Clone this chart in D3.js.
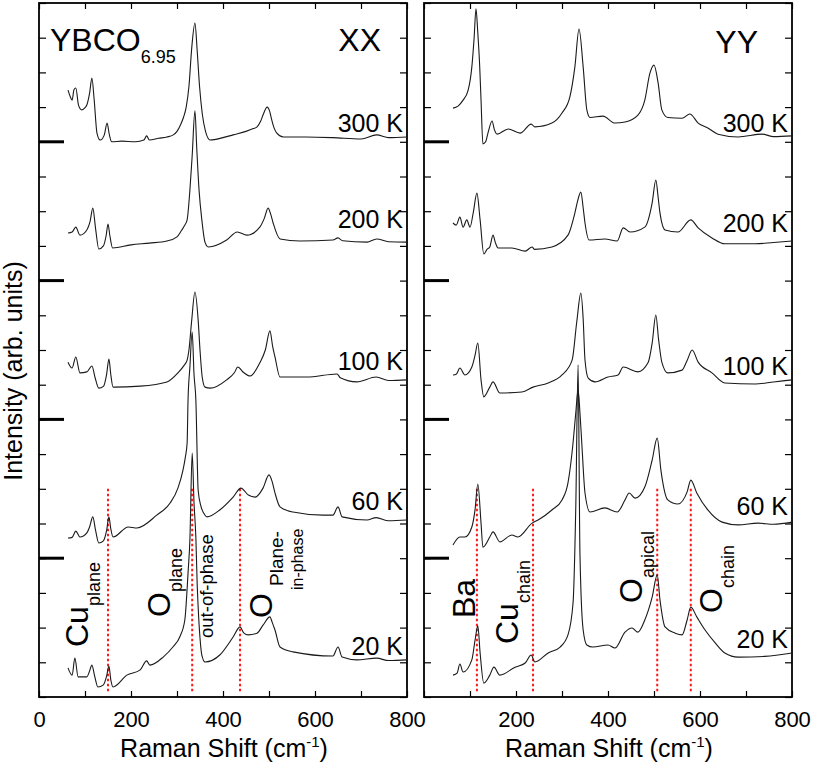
<!DOCTYPE html>
<html><head><meta charset="utf-8">
<script src="https://cdn.jsdelivr.net/npm/d3@7"></script>
<style>
body{margin:0;background:#fff;}
svg{display:block;font-family:"Liberation Sans",Arial,sans-serif;}
</style></head>
<body><svg id="c" width="814" height="766"></svg>
<script>
// ---------------- DATA ----------------
const temps = ["300 K","200 K","100 K","60 K","20 K"];
const xTicks = [0,100,200,300,400,500,600,700,800];
const xTickLabels = [0,200,400,600,800];
const yMinorTicks = d3.range(0,21);
const yMajorTicks = [4,8,12,16];

// XX polarisation spectra [Raman shift cm-1, intensity (offset units)]
const xx300 = [[63,17.49],[68,17.3],[72,17.2],[76,17.5],[80,17.55],[86,17.05],[93,16.92],[99,16.97],[104,17.06],[110,17.4],[115,17.84],[120,17.2],[126,16.25],[133,16.05],[142,16.2],[148,16.54],[153,16.2],[158,16.0],[180,16.02],[210,16.0],[228,16.05],[234,16.17],[240,16.05],[260,16.1],[278,16.14],[292,16.2],[300,16.3],[308,16.5],[314,16.7],[320,17.0],[326,17.6],[332,18.7],[339,19.42],[344,18.6],[349,17.6],[355,16.8],[362,16.3],[372,16.05],[400,16.12],[422,16.2],[450,16.3],[466,16.38],[474,16.43],[482,16.6],[487,16.77],[496,17.0],[501,16.9],[506,16.63],[511,16.4],[517,16.25],[531,16.14],[580,16.14],[639,16.12],[700,16.08],[734,16.2],[760,16.12],[800,16.14]];
const xx200 = [[63,13.37],[72,13.4],[80,13.54],[89,13.31],[104,13.46],[111,13.7],[117,14.09],[123,13.5],[130,12.91],[140,13.0],[146,13.3],[150,13.63],[154,13.3],[160,12.94],[200,13.03],[240,13.08],[278,13.14],[300,13.26],[310,13.45],[317,13.6],[322,13.75],[328,14.6],[333,15.6],[339,16.89],[343,15.8],[348,14.6],[354,13.75],[361,13.1],[368,12.97],[408,13.17],[431,13.4],[452,13.31],[480,13.54],[490,13.8],[498,14.09],[504,13.9],[509,13.66],[524,13.2],[567,13.14],[639,13.17],[650,13.23],[660,13.15],[713,13.11],[734,13.2],[760,13.12],[800,13.11]];
const xx100 = [[63,9.65],[72,9.48],[80,9.8],[89,9.34],[104,9.37],[115,9.54],[122,9.2],[130,8.9],[140,8.95],[147,9.3],[152,9.74],[156,9.3],[161,8.93],[220,8.96],[278,9.08],[302,9.34],[315,9.55],[322,9.71],[326,10.0],[332,10.86],[339,11.67],[346,10.86],[350,10.0],[355,9.2],[361,8.93],[372,8.9],[408,9.14],[425,9.35],[432,9.51],[445,9.35],[459,9.25],[480,9.63],[492,10.0],[502,10.55],[508,10.1],[513,9.8],[524,9.22],[582,9.22],[648,9.31],[655,9.2],[691,9.08],[733,9.22],[760,9.12],[800,9.14]];
const xx60 = [[63,4.58],[72,4.6],[80,4.78],[89,4.61],[104,4.73],[110,4.9],[117,5.19],[123,4.8],[130,4.44],[140,4.5],[147,4.8],[152,5.19],[156,4.85],[161,4.61],[194,4.9],[213,4.87],[256,5.24],[285,5.59],[302,6.02],[313,6.54],[318,6.9],[322,7.32],[324,8.56],[328,9.5],[333,10.52],[337,9.3],[341,8.56],[346,5.96],[352,5.5],[358,5.3],[365,5.19],[393,5.39],[422,5.76],[439,6.02],[455,5.82],[470,5.76],[487,6.02],[500,6.4],[507,6.2],[513,5.88],[524,5.48],[552,5.33],[617,5.24],[639,5.24],[650,5.48],[659,5.19],[713,5.1],[733,5.17],[760,5.08],[800,5.1]];
const xx20 = [[63,0.84],[72,0.63],[78,1.12],[85,0.58],[104,0.58],[110,0.75],[115,0.92],[121,0.6],[128,0.29],[140,0.35],[147,0.6],[152,0.89],[156,0.5],[161,0.29],[191,0.63],[220,0.78],[234,1.04],[241,0.92],[270,1.15],[291,1.44],[306,1.73],[317,2.22],[324,3.57],[328,4.52],[333,7.03],[337,5.6],[341,4.6],[344,3.2],[346,2.59],[350,1.7],[354,1.21],[361,1.01],[393,1.21],[422,1.73],[437,2.02],[445,1.85],[455,1.79],[474,1.84],[487,2.07],[502,2.31],[507,2.15],[513,1.93],[524,1.44],[552,1.3],[639,1.18],[650,1.44],[659,1.15],[691,1.07],[734,1.12],[760,1.05],[800,1.07]];

// YY polarisation spectra
const yy300 = [[63,16.97],[74,17.03],[85,17.2],[96,17.49],[104,18.16],[109,19.0],[113,19.83],[117,19.13],[121,18.2],[124,17.2],[128,15.94],[134,16.0],[139,16.25],[148,16.6],[153,16.35],[159,16.22],[183,16.37],[209,16.25],[233,16.51],[241,16.43],[278,16.54],[300,16.83],[317,17.29],[328,18.16],[337,19.25],[346,18.16],[354,16.92],[361,16.7],[389,16.74],[415,16.54],[437,16.57],[465,16.77],[480,17.2],[491,17.97],[500,18.21],[509,17.69],[517,16.92],[530,16.7],[561,16.68],[578,16.8],[596,16.54],[617,16.4],[639,16.22],[683,16.14],[735,16.22],[760,16.15],[800,16.17]];
const yy200 = [[63,13.66],[70,13.6],[78,13.83],[85,13.54],[93,13.75],[100,13.54],[107,13.95],[115,14.52],[122,13.75],[130,12.77],[137,12.9],[143,12.97],[150,13.31],[155,13.1],[161,12.94],[191,12.94],[220,12.85],[235,12.97],[240,12.9],[278,12.97],[313,13.31],[328,13.95],[334,14.3],[341,14.55],[346,14.1],[350,13.66],[359,13.17],[393,13.2],[420,13.14],[433,13.52],[448,13.4],[480,13.54],[496,14.24],[504,14.9],[509,14.4],[513,13.95],[524,13.46],[552,13.4],[580,13.75],[596,13.52],[626,13.23],[654,13.06],[720,13.06],[760,13.1],[800,13.14]];
const yy100 = [[63,9.28],[70,9.3],[78,9.48],[89,9.28],[104,9.51],[111,9.85],[117,10.2],[124,9.14],[130,8.65],[143,8.93],[150,9.08],[165,8.76],[213,8.79],[237,8.93],[270,9.05],[300,9.28],[322,9.71],[332,10.8],[341,11.64],[346,10.9],[350,9.71],[357,9.19],[372,9.08],[400,9.22],[422,9.28],[433,9.51],[465,9.37],[487,9.63],[496,10.2],[504,11.01],[510,10.3],[517,9.65],[530,9.34],[561,9.42],[572,9.7],[583,10.0],[596,9.65],[626,9.34],[654,9.05],[720,9.02],[760,9.08],[800,9.14]];
const yy60 = [[63,4.38],[78,4.61],[89,4.61],[104,4.9],[111,5.4],[117,6.14],[124,5.01],[128,4.32],[143,4.61],[150,4.76],[165,4.47],[191,4.67],[204,4.61],[235,5.01],[248,5.1],[278,5.39],[300,5.68],[313,6.17],[324,7.32],[330,8.2],[335,8.85],[339,8.2],[343,7.32],[350,5.88],[361,5.33],[393,5.45],[420,5.33],[437,5.68],[446,5.88],[459,5.73],[480,6.05],[496,6.83],[507,7.46],[515,6.54],[530,5.68],[552,5.56],[572,5.91],[580,6.25],[593,5.88],[617,5.39],[648,5.04],[683,4.96],[726,5.01],[760,4.98],[800,5.04]];
const yy20 = [[63,0.63],[72,0.69],[78,0.95],[85,0.72],[104,1.07],[111,1.64],[117,2.05],[122,1.27],[130,0.4],[143,0.63],[152,0.86],[165,0.63],[198,0.86],[220,0.98],[233,1.21],[241,1.01],[270,1.27],[296,1.44],[313,1.79],[324,2.71],[330,5.5],[335,9.57],[339,4.15],[346,1.93],[354,1.5],[367,1.44],[400,1.5],[415,1.41],[437,1.87],[452,1.99],[465,1.87],[480,2.22],[496,2.88],[507,3.52],[513,2.8],[524,2.02],[546,1.84],[561,1.79],[572,2.22],[580,2.59],[593,2.31],[611,1.93],[633,1.56],[654,1.27],[683,1.15],[741,1.17],[800,1.27]];

const xxSeries = [xx300,xx200,xx100,xx60,xx20];
const yySeries = [yy300,yy200,yy100,yy60,yy20];
const xxLabelLevels = [16.28,13.52,9.42,5.39,1.21];
const yyLabelLevels = [16.28,13.4,9.28,5.24,1.41];
const xxModeLines = [150,333,437];
const yyModeLines = [115,237,507,580];

// ---------------- LAYOUT ----------------
const svg = d3.select("#c");
const yTop = 3, yBottom = 697;
const panels = [
  {x0:39, x1:407, series:xxSeries, levels:xxLabelLevels, modes:xxModeLines, showZero:true},
  {x0:424, x1:792, series:yySeries, levels:yyLabelLevels, modes:yyModeLines, showZero:false}
];
const y = d3.scaleLinear().domain([0,20]).range([yBottom, yTop]);
const ink = "#1a1a1a";

panels.forEach(p => {
  const x = d3.scaleLinear().domain([0,800]).range([p.x0, p.x1]);
  const g = svg.append("g");
  const bAx = g.append("g").attr("transform",`translate(0,${yBottom})`)
    .call(d3.axisBottom(x).tickValues(xTicks).tickSizeInner(-6).tickSizeOuter(0).tickPadding(14)
      .tickFormat(d => (xTickLabels.includes(d) && (p.showZero || d!==0)) ? d : ""));
  bAx.selectAll("text").attr("font-size",22).attr("fill","#000").attr("font-family","Liberation Sans, Arial, sans-serif");
  g.append("g").attr("transform",`translate(0,${yTop})`)
    .call(d3.axisTop(x).tickValues(xTicks).tickSizeInner(-6).tickSizeOuter(0).tickFormat(""));
  g.append("g").attr("transform",`translate(${p.x0},0)`)
    .call(d3.axisLeft(y).tickValues(yMinorTicks).tickSizeInner(-7).tickSizeOuter(0).tickFormat(""));
  g.append("g").attr("transform",`translate(${p.x1},0)`)
    .call(d3.axisRight(y).tickValues(yMinorTicks).tickSizeInner(-7).tickSizeOuter(0).tickFormat(""));
  g.selectAll(".domain").remove();
  g.selectAll(".tick line").attr("stroke","#000").attr("stroke-width",1.2);
  g.selectAll(".major").data(yMajorTicks).join("line")
    .attr("x1",p.x0).attr("x2",p.x0+25).attr("y1",d=>y(d)).attr("y2",d=>y(d))
    .attr("stroke","#000").attr("stroke-width",3);
  g.append("rect").attr("x",p.x0).attr("y",yTop).attr("width",p.x1-p.x0).attr("height",yBottom-yTop)
    .attr("fill","none").attr("stroke","#000").attr("stroke-width",1.8);
  g.selectAll(".mode").data(p.modes).join("line")
    .attr("x1",d=>x(d)).attr("x2",d=>x(d)).attr("y1",y(6.0)).attr("y2",y(0.12))
    .attr("stroke","#ff1a1a").attr("stroke-width",2).attr("stroke-dasharray","2.5,2.5");
  const line = d3.line().x(d=>x(d[0])).y(d=>y(d[1])).curve(d3.curveMonotoneX);
  g.selectAll(".spec").data(p.series).join("path")
    .attr("d",line).attr("fill","none").attr("stroke",ink).attr("stroke-width",1.1).attr("stroke-linejoin","round");
  g.selectAll(".tl").data(temps).join("text")
    .attr("x",p.x1-4).attr("y",(d,i)=>y(p.levels[i])).attr("text-anchor","end")
    .attr("font-size",25).attr("fill","#000").text(d=>d);
  const xt = g.append("text").attr("x",(p.x0+p.x1)/2+1).attr("y",757).attr("text-anchor","middle")
    .attr("font-size",25).attr("fill","#000");
  xt.append("tspan").text("Raman Shift (cm");
  xt.append("tspan").attr("font-size",15).attr("dy",-10).text("-1");
  xt.append("tspan").attr("dy",10).text(")");
});

svg.append("text").attr("transform","translate(22,371) rotate(-90)").attr("text-anchor","middle")
  .attr("font-size",25).attr("fill","#000").text("Intensity (arb. units)");

const t1 = svg.append("text").attr("x",50).attr("y",51).attr("font-size",32).attr("fill","#000");
t1.append("tspan").text("YBCO");
t1.append("tspan").attr("font-size",18).attr("dy",12).text("6.95");
svg.append("text").attr("x",381).attr("y",51).attr("text-anchor","end").attr("font-size",32).text("XX");
svg.append("text").attr("x",758).attr("y",53).attr("text-anchor","end").attr("font-size",32).text("YY");

function rotLabel(x, yy, main, sub, mainSize, subSize){
  const t = svg.append("text").attr("transform",`translate(${x},${yy}) rotate(-90)`)
    .attr("font-size",mainSize).attr("fill","#000");
  t.append("tspan").text(main);
  if(sub) t.append("tspan").attr("font-size",subSize).attr("dy",12).text(sub);
}
rotLabel(88,647,"Cu","plane",32,18);
rotLabel(170,617,"O","plane",32,18);
rotLabel(213,638,"out-of-phase",null,18.5);
rotLabel(272,618,"O",null,32);
rotLabel(283,586,"Plane-",null,19);
rotLabel(303,590,"in-phase",null,16);
rotLabel(475,618,"Ba",null,32);
rotLabel(518,644,"Cu","chain",32,18);
rotLabel(642,603,"O","apical",32,18);
rotLabel(722,613,"O","chain",32,18);
</script></body></html>
